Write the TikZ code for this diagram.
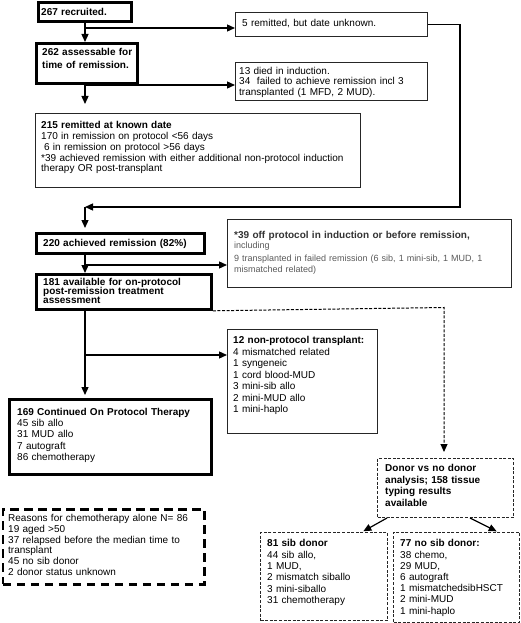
\documentclass[tikz,border=0pt]{standalone}
\usepackage{fontspec}
\setmainfont{Liberation Sans}
\usetikzlibrary{arrows.meta,calc}
\definecolor{greytxt}{HTML}{5A5A5A}
\definecolor{darktxt}{HTML}{333333}
\begin{document}
\begin{tikzpicture}[x=1pt,y=-1pt,
 thickbox/.style={draw=black, line width=2.8pt, inner sep=0pt, anchor=north west},
 thinbox/.style={draw=black!85, line width=1.1pt, inner sep=0pt, anchor=north west},
 thindash/.style={draw=black!85, line width=1pt, dash pattern=on 3pt off 1.6pt, inner sep=0pt, anchor=north west},
 thickdash/.style={draw=black, line width=2.8pt, dash pattern=on 8.5pt off 5.5pt, inner sep=0pt, anchor=north west},
 txt/.style={anchor=base west, inner sep=0pt, align=left, text width=420pt,
   font={\fontsize{10}{#1}\selectfont\lineskiplimit=-20pt}},
 gtxt/.style={anchor=base west, inner sep=0pt, align=left, text width=420pt, text=greytxt,
   font={\fontsize{9}{#1}\selectfont\lineskiplimit=-20pt}},
 conn/.style={line width=1.3pt, -{Triangle[length=8pt,width=7pt]}},
 dconn/.style={line width=1pt, dash pattern=on 3pt off 1.6pt, -{Triangle[length=8pt,width=7pt]}}
]
\useasboundingbox (0,0) rectangle (520,623);
\fill[white] (0,0) rectangle (520,623);

% boxes
\node[thickbox, minimum width=93pt, minimum height=18.5pt] (b267) at (37,1.5) {};
\node[thinbox, minimum width=192pt, minimum height=24pt] (b5) at (235,12) {};
\node[thickbox, minimum width=101pt, minimum height=40pt] (b262) at (35,42) {};
\node[thinbox, minimum width=192pt, minimum height=38pt] (b13) at (235,62) {};
\node[thinbox, minimum width=325pt, minimum height=74pt] (b215) at (35,113) {};
\node[thickbox, minimum width=168pt, minimum height=20pt] (b220) at (35,232) {};
\node[thinbox, minimum width=284pt, minimum height=68pt] (b39) at (227,219) {};
\node[thickbox, minimum width=175pt, minimum height=35pt] (b181) at (35,273) {};
\node[thinbox, minimum width=150pt, minimum height=104pt] (b12) at (227,329) {};
\node[thickbox, minimum width=202pt, minimum height=75pt] (b169) at (8,398) {};
\node[thickdash, minimum width=201.5pt, minimum height=75pt] (reasons) at (1.5,508) {};
\node[thindash, minimum width=136pt, minimum height=59pt] (donor) at (377,458) {};
\node[thindash, minimum width=127pt, minimum height=88pt] (sib) at (260,532) {};
\node[thindash, minimum width=126pt, minimum height=89.5pt] (nosib) at (393,532) {};

% texts
\node[txt=11.3] (t267) at (41,15.4) {\textbf{267 recruited.}};
\node[txt=11.3] (t5) at (242,26.3) {5 remitted, but date unknown.};
\node[txt=13] (t262) at (42,55.6) {\textbf{262 assessable for}\\\textbf{time of remission.}};
\node[txt=10.5] (t13) at (239,74.3) {13 died in induction.\\34\ \ failed to achieve remission incl 3\\transplanted (1 MFD, 2 MUD).};
\node[txt=10.8] (t215) at (41,128.6) {\textbf{215 remitted at known date}\\170 in remission on protocol <56 days\\\hspace*{2.8pt}6 in remission on protocol >56 days\\\relax*39 achieved remission with either additional non-protocol induction\\therapy OR post-transplant};
\node[txt=11.3] (t220) at (43,246.3) {\textbf{220 achieved remission (82\%)}};
\node[txt=11.3, text=darktxt] (t39a) at (234,238.6) {\textbf{*39 off protocol in induction or before remission,}};
\node[gtxt=10.7] (t39b) at (234,248.9) {including};
\node[gtxt=10.7] (t39c) at (234,261.5) {9 transplanted in failed remission (6 sib, 1 mini-sib, 1 MUD, 1\\mismatched related)};
\node[txt=9.3] (t181) at (43,285) {\textbf{181 available for on-protocol}\\\textbf{post-remission treatment}\\\textbf{assessment}};
\node[txt=11.5] (t12) at (233,343.6) {\textbf{12 non-protocol transplant:}\\4 mismatched related\\1 syngeneic\\1 cord blood-MUD\\3 mini-sib allo\\2 mini-MUD allo\\1 mini-haplo};
\node[txt=11.25] (t169) at (17,415.3) {\textbf{169 Continued On Protocol Therapy}\\45 sib allo\\31 MUD allo\\7 autograft\\86 chemotherapy};
\node[txt=10.75] (treasons) at (8,521.6) {Reasons for chemotherapy alone N= 86\\19 aged >50\\37 relapsed before the median time to\\transplant\\45 no sib donor\\2 donor status unknown};
\node[txt=11.57] (tdonor) at (385,471.6) {\textbf{Donor vs no donor}\\\textbf{analysis; 158 tissue}\\\textbf{typing results}\\\textbf{available}};
\node[txt=11.4] (tsib) at (267,546.6) {\textbf{81 sib donor}\\44 sib allo,\\1 MUD,\\2 mismatch siballo\\3 mini-siballo\\31 chemotherapy};
\node[txt=11.2] (tnosib) at (400,546.9) {\textbf{77 no sib donor:}\\38 chemo,\\29 MUD,\\6 autograft\\1 mismatchedsibHSCT\\2 mini-MUD\\1 mini-haplo};

% connectors
\coordinate (sx) at (85,0);
\coordinate (j1) at (85,28);
\coordinate (j2) at (85,85);
\coordinate (j3) at (85,265);
\coordinate (j4) at (85,355);
\coordinate (c1) at (460,207);
\coordinate (c2) at (85,207);
\coordinate (c3) at (444,307.5);

\draw[conn] (b267.south -| sx) -- (b262.north -| sx);
\draw[conn] (j1) -- (j1 -| b5.west);
\draw[conn, shorten >=9pt] (b262.south -| sx) -- (b215.north -| sx);
\draw[conn] (j2) -- (j2 -| b13.west);
\draw[conn] (b5.east) -| (c1) -- (c2);
\draw[conn, shorten >=4pt] (c2) -- (b220.north -| c2);
\draw[conn] (b220.south -| sx) -- (b181.north -| sx);
\draw[conn] (j3) -- (j3 -| b39.west);
\draw[dconn, shorten >=6pt] (b181.south east) -- (c3) -- (donor.north -| c3);
\draw[conn, shorten >=3pt] (b181.south -| sx) -- (b169.north -| sx);
\draw[conn] (j4) -- (j4 -| b12.west);
\draw[conn, line width=1.2pt, shorten >=1.5pt] ([xshift=10pt]donor.south west) -- ([xshift=102pt]sib.north west);
\draw[conn, line width=1.2pt, shorten >=1.5pt] ([xshift=93pt]donor.south west) -- ([xshift=105pt]nosib.north west);
\end{tikzpicture}
\end{document}
